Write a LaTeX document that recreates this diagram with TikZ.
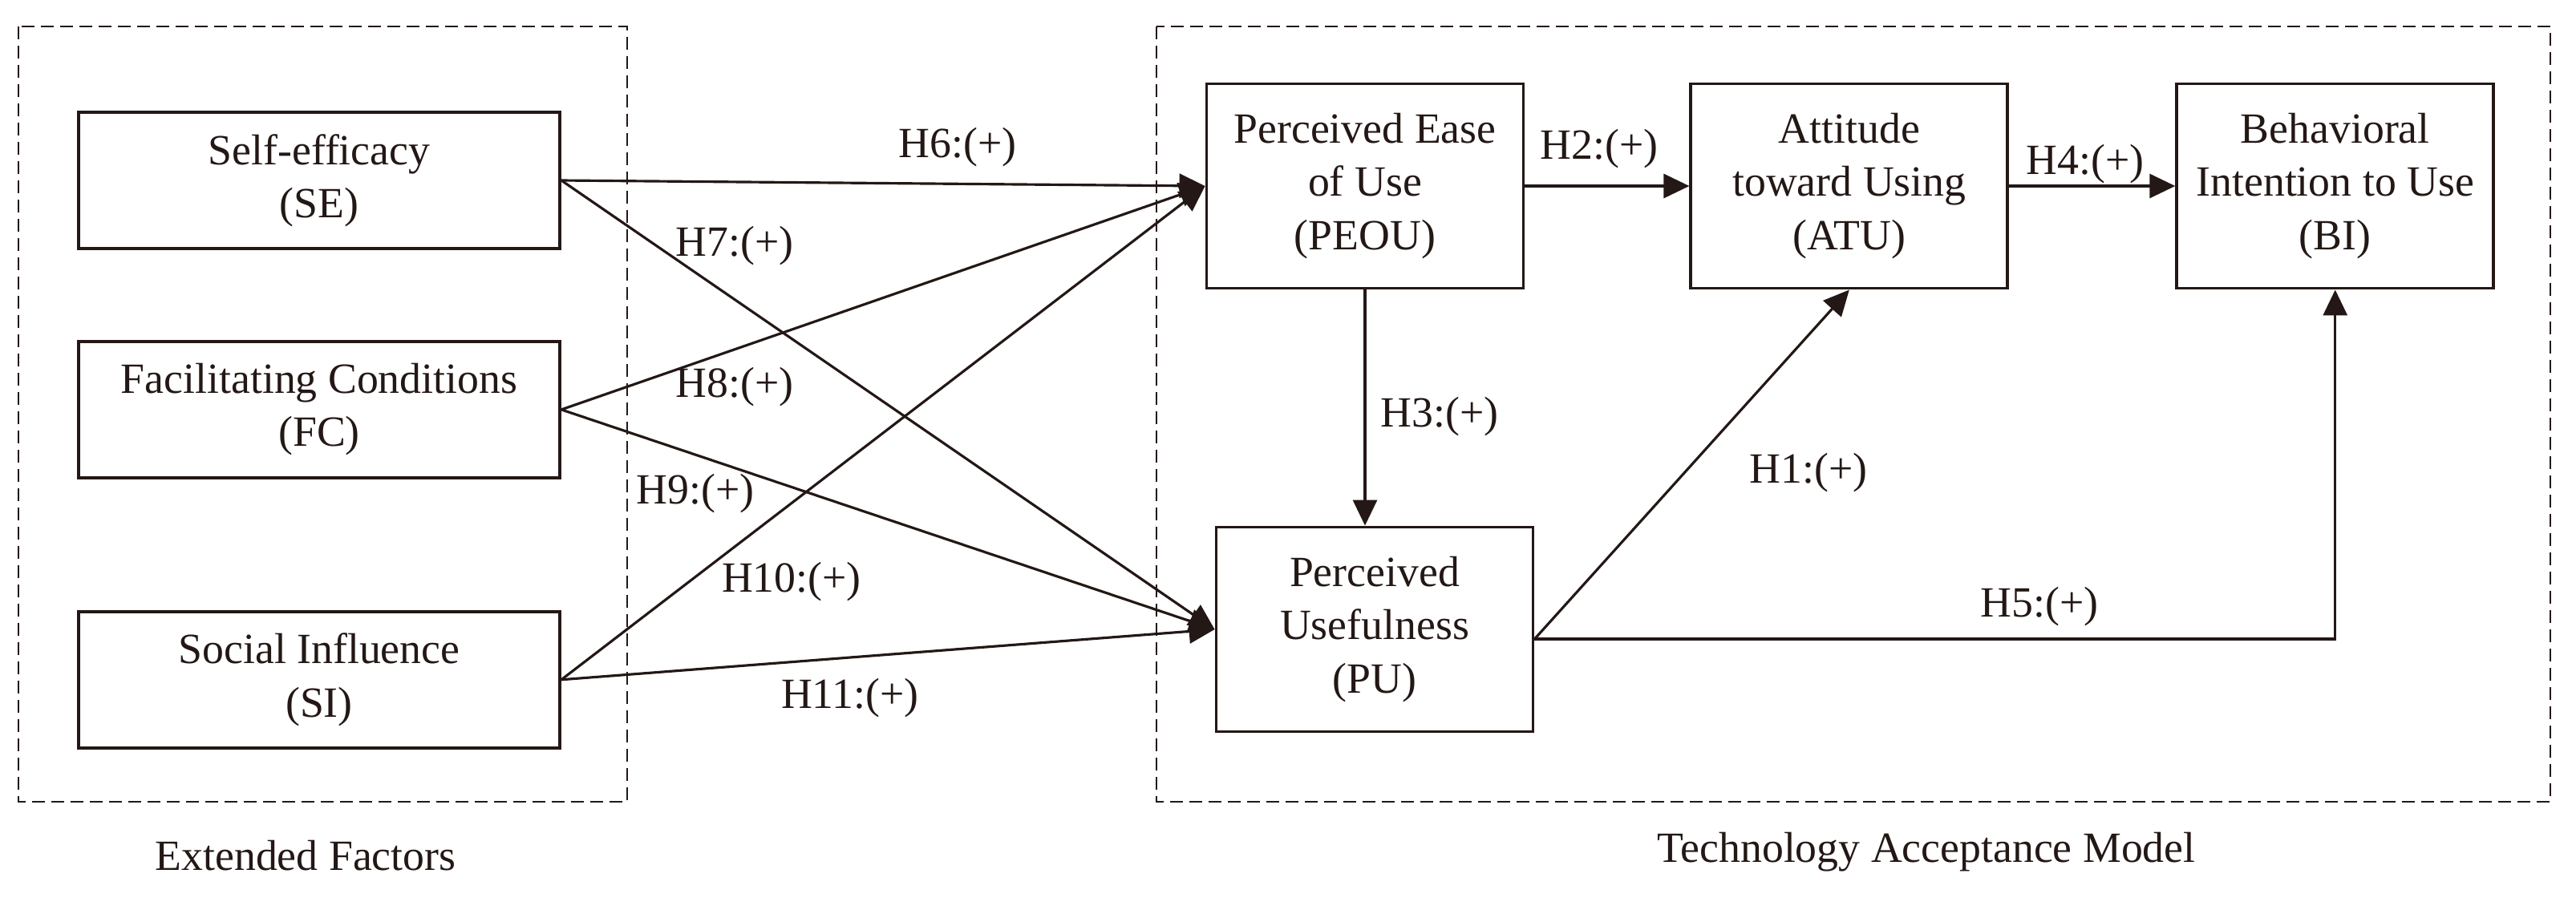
\documentclass[tikz,border=0pt]{standalone}
\usepackage{fontspec}
\setmainfont{Liberation Serif}
\usetikzlibrary{arrows.meta}
\usetikzlibrary{positioning}

\definecolor{ink}{HTML}{231815}

\begin{document}
\begin{tikzpicture}[
  every node/.style={text=ink},
  box/.style={draw=ink,line width=1.1pt,align=center,minimum width=6cm,minimum height=1.7cm,inner sep=0pt,font=\fontsize{15.3}{18.8}\selectfont},
  tambox/.style={box,minimum width=3.95cm,minimum height=2.55cm},
  hyp/.style={draw=ink,line width=0.9pt,-{Triangle[length=0.32cm,width=0.3cm]}},
  hlabel/.style={font=\fontsize{15.3}{18}\selectfont},
  group/.style={draw=ink,line width=0.6pt,dash pattern=on 0.16cm off 0.08cm}
]
\useasboundingbox (0,0) rectangle (32.12,-11.39);

% the two groups
\draw[group] (0.23,-0.33) rectangle (7.82,-10.00);
\draw[group] (14.42,-0.33) rectangle (31.80,-10.00);
\node[hlabel] (ext) at (3.81,-10.67) {Extended Factors};
\node[hlabel] (tam) at (24.02,-10.63) {Technology Acceptance Model};

% extended factors
\node[box] (SE) at (3.98,-2.25) {Self-efficacy\\(SE)};
\node[box,below=1.12cm of SE] (FC) {Facilitating Conditions\\(FC)};
\node[box,below=1.63cm of FC] (SI) {Social Influence\\(SI)};

% technology acceptance model
\node[tambox] (PEOU) at (17.02,-2.32) {Perceived Ease\\of Use\\(PEOU)};
\node[tambox,right=2.05cm of PEOU] (ATU) {Attitude\\toward Using\\(ATU)};
\node[tambox,right=2.07cm of ATU] (BI) {Behavioral\\Intention to Use\\(BI)};
\node[tambox] (PU) at (17.14,-7.85) {Perceived\\Usefulness\\(PU)};
\coordinate (PUout) at ([yshift=-0.12cm]PU.east);

% hypotheses
\draw[hyp] (SE.east) -- (PEOU.west);
\draw[hyp] (SE.east) -- (PU.west);
\draw[hyp] (FC.east) -- (PEOU.west);
\draw[hyp] (FC.east) -- (PU.west);
\draw[hyp] (SI.east) -- (PEOU.west);
\draw[hyp] (SI.east) -- (PU.west);
\draw[hyp] (PEOU.east) -- (ATU.west);
\draw[hyp] (ATU.east) -- (BI.west);
\draw[hyp] (PEOU.south) -- (PEOU.south |- PU.north);
\draw[hyp] (PUout) -- (ATU.south);
\draw[hyp] (PUout) -| (BI.south);

\node[hlabel] (h1) at (22.55,-5.90) {H1:(+)};
\node[hlabel] (h2) at (19.94,-1.86) {H2:(+)};
\node[hlabel] (h3) at (17.95,-5.20) {H3:(+)};
\node[hlabel] (h4) at (26.00,-2.05) {H4:(+)};
\node[hlabel] (h5) at (25.43,-7.57) {H5:(+)};
\node[hlabel] (h6) at (11.94,-1.84) {H6:(+)};
\node[hlabel] (h7) at (9.16,-3.07) {H7:(+)};
\node[hlabel] (h8) at (9.16,-4.83) {H8:(+)};
\node[hlabel] (h9) at (8.67,-6.16) {H9:(+)};
\node[hlabel] (h10) at (9.87,-7.26) {H10:(+)};
\node[hlabel] (h11) at (10.60,-8.71) {H11:(+)};

\end{tikzpicture}
\end{document}
